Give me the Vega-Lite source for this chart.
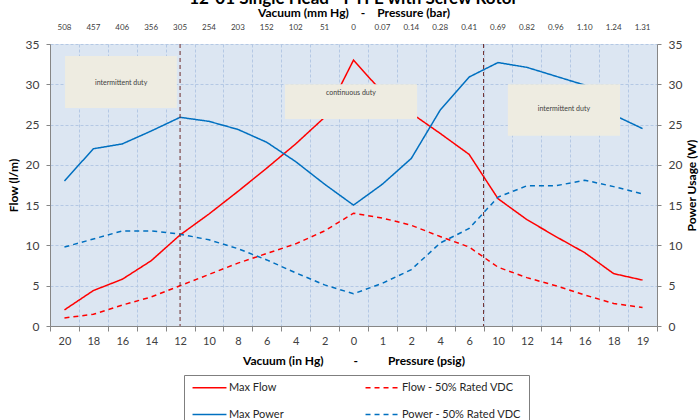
{
  "$schema": "https://vega.github.io/schema/vega-lite/v6.json",
  "width": 607,
  "height": 282,
  "autosize": {"type": "none"},
  "padding": {"left": 50, "top": 44, "right": 42, "bottom": 94},
  "background": "white",
  "config": {
    "font": "Lato",
    "view": {"fill": "#dce6f2", "stroke": null}
  },
  "title": {
    "text": "12-01 Single Head - PTFE with Screw Rotor",
    "fontSize": 17,
    "fontWeight": "bold",
    "color": "#000000",
    "anchor": "middle",
    "offset": -2
  },
  "datasets": {
    "series": [
      {"i": 0, "series": "Max Flow", "value": 2.0},
      {"i": 1, "series": "Max Flow", "value": 4.4},
      {"i": 2, "series": "Max Flow", "value": 5.8},
      {"i": 3, "series": "Max Flow", "value": 8.1},
      {"i": 4, "series": "Max Flow", "value": 11.3},
      {"i": 5, "series": "Max Flow", "value": 13.9},
      {"i": 6, "series": "Max Flow", "value": 16.7},
      {"i": 7, "series": "Max Flow", "value": 19.6},
      {"i": 8, "series": "Max Flow", "value": 22.6},
      {"i": 9, "series": "Max Flow", "value": 25.9},
      {"i": 10, "series": "Max Flow", "value": 33.0},
      {"i": 11, "series": "Max Flow", "value": 29.0},
      {"i": 12, "series": "Max Flow", "value": 26.4},
      {"i": 13, "series": "Max Flow", "value": 23.9},
      {"i": 14, "series": "Max Flow", "value": 21.3},
      {"i": 15, "series": "Max Flow", "value": 15.8},
      {"i": 16, "series": "Max Flow", "value": 13.2},
      {"i": 17, "series": "Max Flow", "value": 11.1},
      {"i": 18, "series": "Max Flow", "value": 9.1},
      {"i": 19, "series": "Max Flow", "value": 6.5},
      {"i": 20, "series": "Max Flow", "value": 5.7},
      {"i": 0, "series": "Flow - 50% Rated VDC", "value": 1.0},
      {"i": 1, "series": "Flow - 50% Rated VDC", "value": 1.45},
      {"i": 2, "series": "Flow - 50% Rated VDC", "value": 2.6},
      {"i": 3, "series": "Flow - 50% Rated VDC", "value": 3.6},
      {"i": 4, "series": "Flow - 50% Rated VDC", "value": 5.0},
      {"i": 5, "series": "Flow - 50% Rated VDC", "value": 6.4},
      {"i": 6, "series": "Flow - 50% Rated VDC", "value": 7.8},
      {"i": 7, "series": "Flow - 50% Rated VDC", "value": 9.0},
      {"i": 8, "series": "Flow - 50% Rated VDC", "value": 10.2},
      {"i": 9, "series": "Flow - 50% Rated VDC", "value": 11.8},
      {"i": 10, "series": "Flow - 50% Rated VDC", "value": 14.0},
      {"i": 11, "series": "Flow - 50% Rated VDC", "value": 13.4},
      {"i": 12, "series": "Flow - 50% Rated VDC", "value": 12.5},
      {"i": 13, "series": "Flow - 50% Rated VDC", "value": 11.1},
      {"i": 14, "series": "Flow - 50% Rated VDC", "value": 9.8},
      {"i": 15, "series": "Flow - 50% Rated VDC", "value": 7.3},
      {"i": 16, "series": "Flow - 50% Rated VDC", "value": 6.0},
      {"i": 17, "series": "Flow - 50% Rated VDC", "value": 5.0},
      {"i": 18, "series": "Flow - 50% Rated VDC", "value": 3.85},
      {"i": 19, "series": "Flow - 50% Rated VDC", "value": 2.8},
      {"i": 20, "series": "Flow - 50% Rated VDC", "value": 2.3},
      {"i": 0, "series": "Max Power", "value": 18.0},
      {"i": 1, "series": "Max Power", "value": 22.0},
      {"i": 2, "series": "Max Power", "value": 22.6},
      {"i": 3, "series": "Max Power", "value": 24.2},
      {"i": 4, "series": "Max Power", "value": 25.9},
      {"i": 5, "series": "Max Power", "value": 25.4},
      {"i": 6, "series": "Max Power", "value": 24.4},
      {"i": 7, "series": "Max Power", "value": 22.8},
      {"i": 8, "series": "Max Power", "value": 20.4},
      {"i": 9, "series": "Max Power", "value": 17.6},
      {"i": 10, "series": "Max Power", "value": 15.0},
      {"i": 11, "series": "Max Power", "value": 17.6},
      {"i": 12, "series": "Max Power", "value": 20.8},
      {"i": 13, "series": "Max Power", "value": 26.8},
      {"i": 14, "series": "Max Power", "value": 30.9},
      {"i": 15, "series": "Max Power", "value": 32.7},
      {"i": 16, "series": "Max Power", "value": 32.1},
      {"i": 17, "series": "Max Power", "value": 31.0},
      {"i": 18, "series": "Max Power", "value": 29.9},
      {"i": 19, "series": "Max Power", "value": 26.2},
      {"i": 20, "series": "Max Power", "value": 24.5},
      {"i": 0, "series": "Power - 50% Rated VDC", "value": 9.8},
      {"i": 1, "series": "Power - 50% Rated VDC", "value": 10.8},
      {"i": 2, "series": "Power - 50% Rated VDC", "value": 11.8},
      {"i": 3, "series": "Power - 50% Rated VDC", "value": 11.8},
      {"i": 4, "series": "Power - 50% Rated VDC", "value": 11.4},
      {"i": 5, "series": "Power - 50% Rated VDC", "value": 10.7},
      {"i": 6, "series": "Power - 50% Rated VDC", "value": 9.6},
      {"i": 7, "series": "Power - 50% Rated VDC", "value": 8.2},
      {"i": 8, "series": "Power - 50% Rated VDC", "value": 6.6},
      {"i": 9, "series": "Power - 50% Rated VDC", "value": 5.1},
      {"i": 10, "series": "Power - 50% Rated VDC", "value": 4.0},
      {"i": 11, "series": "Power - 50% Rated VDC", "value": 5.3},
      {"i": 12, "series": "Power - 50% Rated VDC", "value": 7.0},
      {"i": 13, "series": "Power - 50% Rated VDC", "value": 10.3},
      {"i": 14, "series": "Power - 50% Rated VDC", "value": 12.1},
      {"i": 15, "series": "Power - 50% Rated VDC", "value": 16.0},
      {"i": 16, "series": "Power - 50% Rated VDC", "value": 17.4},
      {"i": 17, "series": "Power - 50% Rated VDC", "value": 17.4},
      {"i": 18, "series": "Power - 50% Rated VDC", "value": 18.1},
      {"i": 19, "series": "Power - 50% Rated VDC", "value": 17.3},
      {"i": 20, "series": "Power - 50% Rated VDC", "value": 16.4}
    ],
    "boxes": [
      {"label": "intermittent duty", "x0": 0.02, "x1": 3.89, "y0": 27.05, "y1": 33.5, "tx": 1.96, "ty": 30.2},
      {"label": "continuous duty", "x0": 7.63, "x1": 12.2, "y0": 25.7, "y1": 30.0, "tx": 9.91, "ty": 28.9},
      {"label": "intermittent duty", "x0": 15.34, "x1": 19.22, "y0": 23.6, "y1": 30.0, "tx": 17.28, "ty": 26.9}
    ],
    "limits": [
      {"x": 4},
      {"x": 14.5}
    ]
  },
  "layer": [
    {
      "data": {"name": "series"},
      "mark": {"type": "line", "strokeWidth": 1.5},
      "encoding": {
        "x": {
          "field": "i",
          "type": "ordinal",
          "bandPosition": 0.5,
          "scale": {"type": "band", "paddingInner": 0, "paddingOuter": 0},
          "axis": {
            "orient": "bottom",
            "tickBand": "extent",
            "labelExpr": "['20','18','16','14','12','10','8','6','4','2','0','1','2','4','6','10','12','14','16','18','19'][datum.value]",
            "labelAngle": 0,
            "labelFontSize": 11,
            "labelColor": "#404040",
            "labelPadding": 4,
            "tickSize": 5,
            "tickColor": "#868686",
            "domainColor": "#868686",
            "grid": true,
            "gridColor": "#b4c8e4",
            "gridDash": [3, 2],
            "title": "Vacuum (in Hg)\u2002\u2002\u2002\u2002\u2002-\u2002\u2002\u2002\u2002\u2002Pressure (psig)",
            "titleFontSize": 12,
            "titleFontWeight": "bold",
            "titleColor": "#000000",
            "titlePadding": 9
          }
        },
        "y": {
          "field": "value",
          "type": "quantitative",
          "scale": {"domain": [0, 35], "nice": false},
          "axis": {
            "orient": "left",
            "values": [0, 5, 10, 15, 20, 25, 30, 35],
            "labelFontSize": 12,
            "labelColor": "#404040",
            "labelPadding": 7,
            "tickSize": 4,
            "tickColor": "#868686",
            "domainColor": "#868686",
            "grid": true,
            "gridColor": "#b4c8e4",
            "gridDash": [3, 2],
            "title": "Flow (l/m)",
            "titleFontSize": 12,
            "titleFontWeight": "bold",
            "titleColor": "#000000",
            "titlePadding": 5
          }
        },
        "color": {
          "field": "series",
          "type": "nominal",
          "scale": {
            "domain": ["Max Flow", "Flow - 50% Rated VDC", "Max Power", "Power - 50% Rated VDC"],
            "range": ["#ff0000", "#ff0000", "#0070c0", "#0070c0"]
          },
          "legend": {
            "title": null,
            "orient": "none",
            "direction": "horizontal",
            "legendX": 134,
            "legendY": 331,
            "columns": 2,
            "symbolType": "M-4,0H4",
            "symbolSize": 72,
            "symbolStrokeWidth": 1.5,
            "symbolOffset": 13,
            "labelFontSize": 11,
            "labelColor": "#262626",
            "labelOffset": 14,
            "strokeColor": "#7f7f7f",
            "fillColor": "#ffffff",
            "padding": 7,
            "rowPadding": 15,
            "columnPadding": 78
          }
        },
        "strokeDash": {
          "field": "series",
          "type": "nominal",
          "scale": {
            "domain": ["Max Flow", "Flow - 50% Rated VDC", "Max Power", "Power - 50% Rated VDC"],
            "range": [[1, 0], [5, 4], [1, 0], [5, 4]]
          }
        }
      }
    },
    {
      "data": {"name": "series"},
      "mark": {"type": "point", "opacity": 0},
      "encoding": {
        "x": {
          "field": "i",
          "type": "ordinal",
          "scale": {"type": "band", "paddingInner": 0, "paddingOuter": 0},
          "axis": {
            "orient": "top",
            "labelExpr": "['508','457','406','356','305','254','203','152','102','51','0','0.07','0.14','0.28','0.41','0.69','0.82','0.96','1.10','1.24','1.31'][datum.value]",
            "labelAngle": 0,
            "labelFontSize": 8,
            "labelColor": "#404040",
            "labelPadding": 13,
            "domain": false,
            "ticks": false,
            "grid": false,
            "title": "Vacuum (mm Hg)\u2002\u2002-\u2002\u2002Pressure (bar)",
            "titleFontSize": 12,
            "titleFontWeight": "bold",
            "titleColor": "#000000",
            "titlePadding": 4
          }
        },
        "y": {
          "field": "value",
          "type": "quantitative",
          "scale": {"domain": [0, 35], "nice": false},
          "axis": {
            "orient": "right",
            "values": [0, 5, 10, 15, 20, 25, 30, 35],
            "labelFontSize": 12,
            "labelColor": "#404040",
            "labelPadding": 7,
            "tickSize": 4,
            "tickColor": "#868686",
            "domainColor": "#868686",
            "grid": false,
            "title": "Power Usage (W)",
            "titleAngle": -90,
            "titleFontSize": 12,
            "titleFontWeight": "bold",
            "titleColor": "#000000",
            "titlePadding": 17
          }
        }
      }
    },
    {
      "data": {"name": "limits"},
      "mark": {"type": "rule", "color": "#6b2a2a", "strokeWidth": 1, "strokeDash": [4, 3]},
      "encoding": {
        "x": {"field": "x", "type": "quantitative", "scale": {"domain": [-0.5, 20.5], "nice": false, "zero": false}, "axis": null}
      }
    },
    {
      "data": {"name": "boxes"},
      "mark": {"type": "rect", "fill": "#eeece1"},
      "encoding": {
        "x": {"field": "x0", "type": "quantitative", "scale": {"domain": [-0.5, 20.5], "nice": false, "zero": false}, "axis": null},
        "x2": {"field": "x1"},
        "y": {"field": "y0", "type": "quantitative", "scale": {"domain": [0, 35], "nice": false}, "axis": null},
        "y2": {"field": "y1"}
      }
    },
    {
      "data": {"name": "boxes"},
      "mark": {"type": "text", "fontSize": 7, "color": "#404040", "align": "center", "baseline": "middle"},
      "encoding": {
        "x": {"field": "tx", "type": "quantitative", "scale": {"domain": [-0.5, 20.5], "nice": false, "zero": false}, "axis": null},
        "y": {"field": "ty", "type": "quantitative", "scale": {"domain": [0, 35], "nice": false}, "axis": null},
        "text": {"field": "label"}
      }
    }
  ],
  "resolve": {
    "scale": {"x": "independent"},
    "axis": {"x": "independent", "y": "independent"}
  }
}
